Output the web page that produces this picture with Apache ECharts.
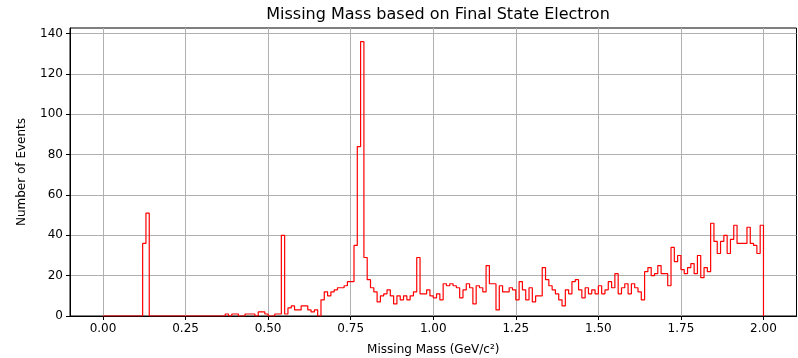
<!DOCTYPE html>
<html><head><meta charset="utf-8">
<script src="https://cdn.jsdelivr.net/npm/echarts@6/dist/echarts.min.js"></script>
<style>html,body{margin:0;padding:0;background:#fff}#c{width:798px;height:358px}</style>
</head><body><div id="c"></div>
<script>
const chartTitle = 'Missing Mass based on Final State Electron';
const xLabel = 'Missing Mass (GeV/c²)';
const yLabel = 'Number of Events';
const binStart = 0;
const binWidth = 0.01;
// counts per bin, 0.00 .. 2.00 (200 bins)
const counts = [
  0,0,0,0,0,0,0,0,0,0,
  0,0,36,51,0,0,0,0,0,0,
  0,0,0,0,0,0,0,0,0,0,
  0,0,0,0,0,0,0,1,0,1,
  1,0,0,1,1,1,0,2,2,1,
  0,0,1,1,40,1,4,5,3,3,
  5,5,3,2,3,0,8,12,10,12,
  13,14,14,15,17,17,35,84,136,29,
  18,14,12,7,10,11,13,10,6,10,
  8,10,8,10,12,29,11,11,13,10,
  9,11,8,16,15,16,15,14,9,13,
  16,14,6,15,14,12,25,16,16,3,
  15,12,12,14,13,8,17,13,8,14,
  7,10,10,24,18,15,13,11,8,5,
  13,11,17,18,13,9,14,11,13,11,
  15,11,13,17,14,21,11,14,16,11,
  16,14,12,8,22,24,20,21,25,21,
  21,15,34,27,30,23,21,24,26,21,
  30,19,24,22,46,37,31,37,40,31,
  38,45,36,36,36,44,36,35,31,45
];
const xTicks = [0, 0.25, 0.5, 0.75, 1.0, 1.25, 1.5, 1.75, 2.0];
const yTicks = [0, 20, 40, 60, 80, 100, 120, 140];

const stepData = counts.map((c, i) => [binStart + i * binWidth, c]);
stepData.push([binStart + counts.length * binWidth, 0]);

const font = 'DejaVu Sans';
const chart = echarts.init(document.getElementById('c'), null, {renderer: 'canvas'});
chart.setOption({
  animation: false,
  backgroundColor: '#fff',
  title: {
    text: chartTitle, left: 433, top: 2, textAlign: 'center',
    textStyle: {fontFamily: font, fontSize: 16, fontWeight: 'normal', color: '#000'}
  },
  grid: {left: 70, right: 1.5, top: 28, bottom: 42, show: true, borderColor: '#000', borderWidth: 1,
    backgroundColor: 'transparent', containLabel: false, outerBoundsMode: 'none'},
  xAxis: {
    type: 'value', min: -0.1, max: 2.1,
    name: xLabel, nameLocation: 'middle', nameGap: 28,
    nameTextStyle: {fontFamily: font, fontSize: 12, color: '#000'},
    axisLine: {show: true, onZero: false, lineStyle: {color: '#000', width: 1}},
    axisTick: {show: true, length: 4, customValues: xTicks, lineStyle: {color: '#000', width: 1}},
    axisLabel: {customValues: xTicks, margin: 7, fontFamily: font, fontSize: 12, color: '#000',
      formatter: v => v.toFixed(2)},
    splitLine: {show: true, lineStyle: {color: '#b0b0b0', width: 1}}
  },
  yAxis: {
    type: 'value', min: 0, max: 142.8,
    name: yLabel, nameLocation: 'middle', nameGap: 42, nameRotate: 90,
    nameTextStyle: {fontFamily: font, fontSize: 12, color: '#000'},
    axisLine: {show: true, onZero: false, lineStyle: {color: '#000', width: 1}},
    axisTick: {show: true, length: 4, customValues: yTicks, lineStyle: {color: '#000', width: 1}},
    axisLabel: {customValues: yTicks, margin: 7, fontFamily: font, fontSize: 12, color: '#000'},
    splitLine: {show: true, lineStyle: {color: '#b0b0b0', width: 1}}
  },
  series: [{
    type: 'line', step: 'end', data: stepData, showSymbol: false, symbol: 'none',
    lineStyle: {color: '#ff0000', width: 1.2}, z: 3, clip: true
  }]
});
</script></body></html>
